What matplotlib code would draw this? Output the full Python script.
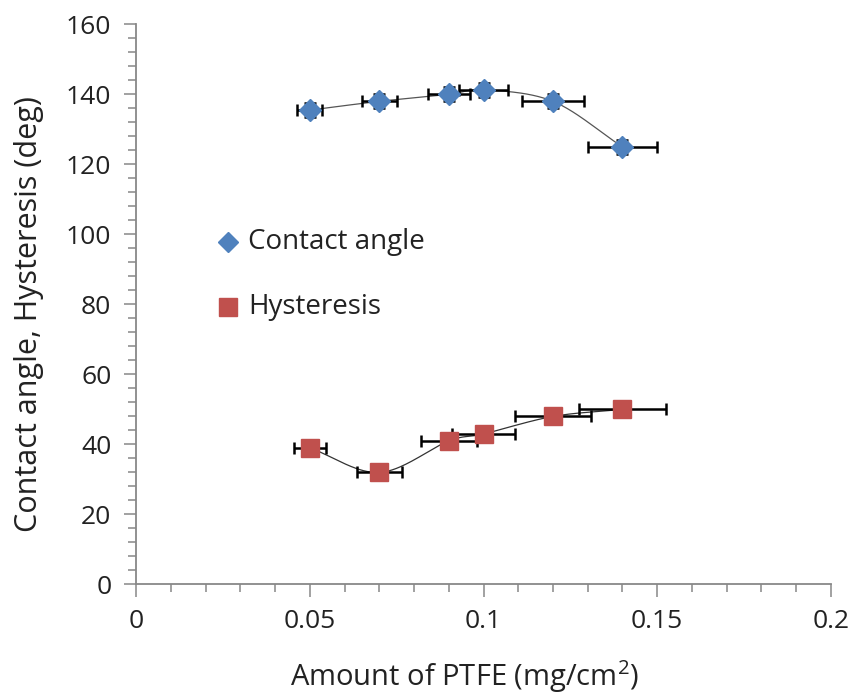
import numpy as np
import matplotlib
matplotlib.use('Agg')
import matplotlib.pyplot as plt
from matplotlib.ticker import MultipleLocator

plt.rcParams['font.family'] = ['Open Sans', 'DejaVu Sans']
plt.rcParams['mathtext.fontset'] = 'custom'
plt.rcParams['mathtext.rm'] = 'Open Sans'
plt.rcParams['mathtext.it'] = 'Open Sans'

# ── Datos ────────────────────────────────────────────────────────────────
ptfe = [0.05, 0.07, 0.09, 0.10, 0.12, 0.14]

contact_angle = [135.5, 138, 140, 141.3, 138, 125]
ca_xerr = [0.0036, 0.005, 0.006, 0.007, 0.009, 0.010]
ca_yerr = [2, 2, 2, 2, 2, 2]

hysteresis = [39, 32, 41, 43, 48, 50]
hy_xerr = [0.0045, 0.0065, 0.008, 0.009, 0.011, 0.0125]
hy_yerr = [2, 2, 2, 2, 2, 2]

x_ticks = [0, 0.05, 0.1, 0.15, 0.2]
x_ticklabels = ['0', '0.05', '0.1', '0.15', '0.2']

BLUE = '#4F81BD'
RED = '#C0504D'
TXT = '#222222'
AXC = '#888888'


def smooth(x, y, n=40):
    """Curva suavizada tipo Excel (Catmull-Rom) por los puntos."""
    x = np.asarray(x, float)
    y = np.asarray(y, float)
    P = np.column_stack([x, y])
    P = np.vstack([2 * P[0] - P[1], P, 2 * P[-1] - P[-2]])
    out = []
    t = np.linspace(0, 1, n)[:, None]
    for i in range(1, len(P) - 2):
        p0, p1, p2, p3 = P[i - 1], P[i], P[i + 1], P[i + 2]
        c1 = p1 + (p2 - p0) / 6
        c2 = p2 - (p3 - p1) / 6
        seg = ((1 - t) ** 3) * p1 + 3 * ((1 - t) ** 2) * t * c1 \
            + 3 * (1 - t) * t ** 2 * c2 + t ** 3 * p2
        out.append(seg)
    out = np.vstack(out)
    return out[:, 0], out[:, 1]


fig = plt.figure(figsize=(8.52, 6.95), dpi=100)
ax = fig.add_axes([0.16, 0.159, 0.815, 0.806])

sx, sy = smooth(ptfe, contact_angle)
ax.plot(sx, sy, color='#555555', lw=0.9, zorder=2)
sx, sy = smooth(ptfe, hysteresis)
ax.plot(sx, sy, color='#333333', lw=0.9, zorder=2)

ax.errorbar(ptfe, contact_angle, xerr=ca_xerr, yerr=ca_yerr, fmt='D',
            color=BLUE, ms=11, mec=BLUE, ecolor='black', elinewidth=1.8,
            capsize=4.5, capthick=1.8, zorder=3)
ax.errorbar(ptfe, hysteresis, xerr=hy_xerr, yerr=hy_yerr, fmt='s',
            color=RED, ms=13, mec=RED, ecolor='black', elinewidth=1.8,
            capsize=4.5, capthick=1.8, zorder=3)

ax.set_xlim(0, 0.2)
ax.set_ylim(0, 160)
ax.set_xticks(x_ticks)
ax.set_xticklabels(x_ticklabels)
ax.xaxis.set_minor_locator(MultipleLocator(0.01))
ax.yaxis.set_major_locator(MultipleLocator(20))
ax.yaxis.set_minor_locator(MultipleLocator(4))

for s in ['top', 'right']:
    ax.spines[s].set_visible(False)
for s in ['left', 'bottom']:
    ax.spines[s].set_color(AXC)
    ax.spines[s].set_linewidth(1.3)
ax.tick_params(which='major', length=9, width=1.1, color=AXC,
               labelsize=19, labelcolor=TXT, pad=9)
ax.tick_params(which='minor', length=6, width=1.1, color=AXC)

ax.set_xlabel('Amount of PTFE (mg/cm$^2$)', fontsize=21, color=TXT)
ax.set_ylabel('Contact angle, Hysteresis (deg)', fontsize=22, color=TXT)
ax.xaxis.set_label_coords(0.473, -0.132)
ax.yaxis.set_label_coords(-0.133, 0.482)

# Leyenda manual (sin marco)
ax.plot([0.1326], [0.611], marker='D', ls='none', color=BLUE, ms=10,
        transform=ax.transAxes, clip_on=False)
ax.text(0.161, 0.611, 'Contact angle', fontsize=20, color=TXT,
        va='center', ha='left', transform=ax.transAxes)
ax.plot([0.1326], [0.496], marker='s', ls='none', color=RED, ms=13,
        transform=ax.transAxes, clip_on=False)
ax.text(0.161, 0.496, 'Hysteresis', fontsize=20, color=TXT,
        va='center', ha='left', transform=ax.transAxes)

fig.savefig('out.png', dpi=100)
